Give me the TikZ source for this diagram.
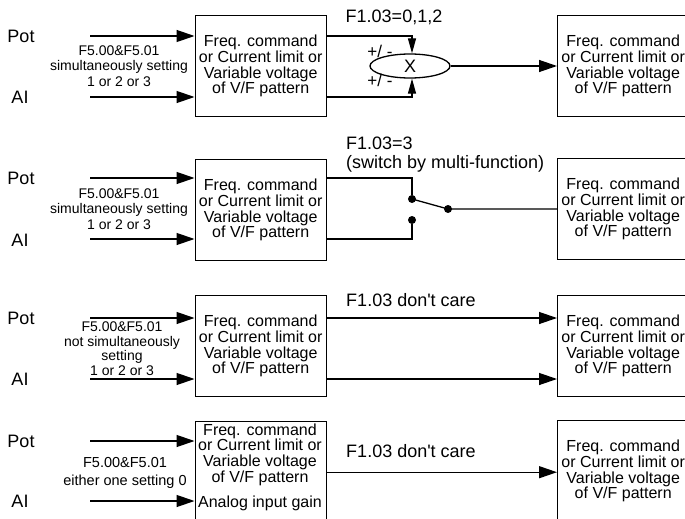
\documentclass[tikz,border=0pt]{standalone}
\usepackage{fontspec}
\setmainfont{Liberation Sans}
\usetikzlibrary{arrows.meta,shapes.geometric,positioning}

\begin{document}
\begin{tikzpicture}[x=1pt, y=-1pt,
    vfbox/.style={draw, line width=1.4pt, minimum width=131pt, minimum height=101pt,
      inner sep=0pt, align=center, anchor=north west, font=\fontsize{16}{15.7}\selectfont},
    boxtext/.style={align=center, inner sep=0pt, font=\fontsize{16}{15.7}\selectfont},
    sig/.style={font=\fontsize{18}{20}\selectfont},
    note/.style={align=center, inner sep=0pt, font=\fontsize{14}{15.8}\selectfont},
    cond/.style={inner sep=0pt, font=\fontsize{18}{19}\selectfont},
    sign/.style={inner sep=0pt, font=\fontsize{17}{17}\selectfont},
    feed/.style={line width=1.3pt, -{Triangle[length=18pt,width=12pt]}},
    fb/.style={line width=1.3pt, -{Triangle[length=15pt,width=8pt]}},
    wire/.style={line width=1.3pt},
    dot/.style={circle, fill, inner sep=0pt, minimum size=8pt}
  ]
  \useasboundingbox (0,0) rectangle (685,519);
  \clip (0,0) rectangle (685,519);

  % case 1: F1.03=0,1,2 (sum)
  \node[sig] (pot1) at (21,36) {Pot};
  \node[sig] (ai1) at (20,97) {AI};
  \coordinate (p1) at (90,36);
  \coordinate (a1) at (90,97);
  \node[note] (set1) at (119,66) {F5.00\&F5.01\\simultaneously setting\\1 or 2 or 3};
  \node[vfbox] (src1) at (194.5,15) {Freq. command\\or Current limit or\\Variable voltage\\of V/F pattern};
  \node[vfbox] (dst1) at (557,15) {Freq. command\\or Current limit or\\Variable voltage\\of V/F pattern};
  \node[cond] (mode1) at (394,17) {F1.03=0,1,2};
  \node[draw, ellipse, line width=1.3pt, minimum width=80pt, minimum height=24pt,
    inner sep=0pt, font=\fontsize{18}{18}\selectfont] (mix) at (410,66) {X};
  \node[sign] (pm1) at (380,51) {+/ -};
  \node[sign] (pm2) at (380,80) {+/ -};
  \draw[feed] (p1) -- (p1 -| src1.west);
  \draw[feed] (a1) -- (a1 -| src1.west);
  \draw[fb] (src1.east |- p1) -| ([xshift=2pt]mix.north);
  \draw[fb] (src1.east |- a1) -| ([xshift=2pt]mix.south);
  \draw[feed] (mix.east) -- (mix.east -| dst1.west);

  % case 2: F1.03=3 (switch)
  \node[sig] (pot2) at (21,178) {Pot};
  \node[sig] (ai2) at (20,240) {AI};
  \coordinate (p2) at (90,178);
  \coordinate (a2) at (90,239);
  \node[note] (set2) at (119,209) {F5.00\&F5.01\\simultaneously setting\\1 or 2 or 3};
  \node[vfbox] (src2) at (194.5,159) {Freq. command\\or Current limit or\\Variable voltage\\of V/F pattern};
  \node[vfbox] (dst2) at (557,158) {Freq. command\\or Current limit or\\Variable voltage\\of V/F pattern};
  \node[cond, align=left, anchor=west] (mode2) at (346,155) {F1.03=3\\(switch by multi-function)};
  \node[dot] (up2) at (412,199) {};
  \node[dot] (dn2) at (412,220) {};
  \node[dot] (arm2) at (448,209) {};
  \draw[feed] (p2) -- (p2 -| src2.west);
  \draw[feed] (a2) -- (a2 -| src2.west);
  \draw[wire] (src2.east |- p2) -| (up2);
  \draw[wire] (src2.east |- a2) -| (dn2);
  \draw[wire] (up2.center) -- (arm2.center) -- (arm2.center -| dst2.west);

  % case 3: not simultaneously
  \node[sig] (pot3) at (21,318) {Pot};
  \node[sig] (ai3) at (20,379) {AI};
  \coordinate (p3) at (90,318);
  \coordinate (a3) at (90,379);
  \node[note, font=\fontsize{14}{14.5}\selectfont] (set3) at (122,348.5)
    {F5.00\&F5.01\\not simultaneously\\setting\\1 or 2 or 3};
  \node[vfbox] (src3) at (194.5,295) {Freq. command\\or Current limit or\\Variable voltage\\of V/F pattern};
  \node[vfbox] (dst3) at (557,295) {Freq. command\\or Current limit or\\Variable voltage\\of V/F pattern};
  \node[cond] (mode3) at (411,300) {F1.03 don\textquotesingle t care};
  \draw[feed] (p3) -- (p3 -| src3.west);
  \draw[feed] (a3) -- (a3 -| src3.west);
  \draw[feed] (src3.east |- p3) -- (dst3.west |- p3);
  \draw[feed] (src3.east |- a3) -- (dst3.west |- a3);

  % case 4: either one setting 0
  \node[sig] (pot4) at (21,441) {Pot};
  \node[sig] (ai4) at (20,501) {AI};
  \coordinate (p4) at (90,441);
  \coordinate (a4) at (90,501);
  \node[note, font=\fontsize{14.5}{18}\selectfont] (set4) at (125,473)
    {F5.00\&F5.01\\either one setting 0};
  \node[vfbox] (src4) at (194.5,421) {};
  \node[boxtext] (gain4) at (260,467)
    {Freq. command\\or Current limit or\\Variable voltage\\of V/F pattern\\[9pt]Analog input gain};
  \node[vfbox] (dst4) at (557,420) {Freq. command\\or Current limit or\\Variable voltage\\of V/F pattern};
  \node[cond] (mode4) at (411,451) {F1.03 don\textquotesingle t care};
  \draw[feed] (p4) -- (p4 -| src4.west);
  \draw[feed] (a4) -- (a4 -| src4.west);
  \draw[feed] (src4.east) -- (src4.east -| dst4.west);
\end{tikzpicture}
\end{document}
